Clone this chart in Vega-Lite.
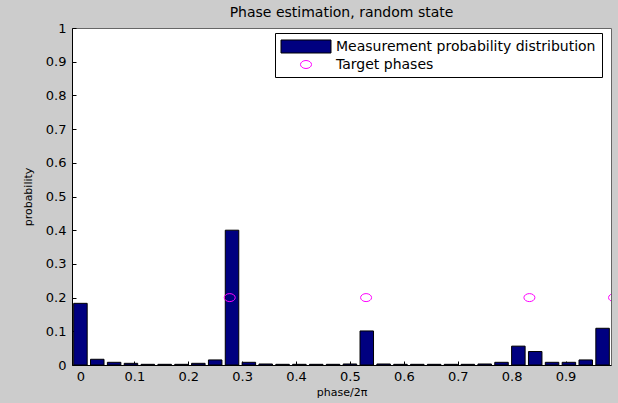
{
  "$schema": "https://vega.github.io/schema/vega-lite/v6.json",
  "width": 539,
  "height": 337,
  "autosize": "none",
  "padding": {"left": 72, "top": 28, "right": 7, "bottom": 38},
  "background": "#cccccc",
  "title": {
    "text": "Phase estimation, random state",
    "font": "DejaVu Sans",
    "fontSize": 14,
    "fontWeight": "normal",
    "color": "#000000",
    "anchor": "middle",
    "offset": 2
  },
  "config": {
    "view": {"fill": "white", "stroke": "#666666", "strokeWidth": 1},
    "axis": {
      "labelFont": "DejaVu Sans",
      "labelFontSize": 13,
      "labelColor": "#000000",
      "labelOverlap": false,
      "titleFont": "DejaVu Sans",
      "titleFontSize": 11,
      "titleFontWeight": "normal",
      "titleColor": "#000000",
      "domainColor": "#000000",
      "tickColor": "#000000",
      "tickSize": -4,
      "grid": false,
      "format": "~g"
    },
    "legend": {
      "labelFont": "DejaVu Sans",
      "labelFontSize": 14,
      "labelColor": "#000000",
      "labelLimit": 0,
      "symbolSize": 196,
      "symbolStrokeWidth": 1,
      "symbolOpacity": 1,
      "labelOffset": 40
    }
  },
  "datasets": {
    "bars": [
      {"phase": 0, "probability": 0.183},
      {"phase": 0.03125, "probability": 0.017},
      {"phase": 0.0625, "probability": 0.008},
      {"phase": 0.09375, "probability": 0.005},
      {"phase": 0.125, "probability": 0.002},
      {"phase": 0.15625, "probability": 0.002},
      {"phase": 0.1875, "probability": 0.002},
      {"phase": 0.21875, "probability": 0.005},
      {"phase": 0.25, "probability": 0.015},
      {"phase": 0.28125, "probability": 0.4},
      {"phase": 0.3125, "probability": 0.008},
      {"phase": 0.34375, "probability": 0.003},
      {"phase": 0.375, "probability": 0.002},
      {"phase": 0.40625, "probability": 0.002},
      {"phase": 0.4375, "probability": 0.002},
      {"phase": 0.46875, "probability": 0.002},
      {"phase": 0.5, "probability": 0.003},
      {"phase": 0.53125, "probability": 0.101},
      {"phase": 0.5625, "probability": 0.003},
      {"phase": 0.59375, "probability": 0.002},
      {"phase": 0.625, "probability": 0.002},
      {"phase": 0.65625, "probability": 0.002},
      {"phase": 0.6875, "probability": 0.002},
      {"phase": 0.71875, "probability": 0.002},
      {"phase": 0.75, "probability": 0.003},
      {"phase": 0.78125, "probability": 0.008},
      {"phase": 0.8125, "probability": 0.056},
      {"phase": 0.84375, "probability": 0.04},
      {"phase": 0.875, "probability": 0.008},
      {"phase": 0.90625, "probability": 0.008},
      {"phase": 0.9375, "probability": 0.015},
      {"phase": 0.96875, "probability": 0.109}
    ],
    "targets": [
      {"phase": 0.277, "probability": 0.2},
      {"phase": 0.53, "probability": 0.2},
      {"phase": 0.833, "probability": 0.2},
      {"phase": 0.99, "probability": 0.2}
    ]
  },
  "layer": [
    {
      "data": {"name": "bars"},
      "mark": {"type": "bar", "width": 13.5, "stroke": "#000000", "strokeWidth": 1, "opacity": 1},
      "encoding": {
        "x": {
          "field": "phase",
          "type": "quantitative",
          "scale": {"domain": [-0.015625, 0.984375], "nice": false, "zero": false, "padding": 0},
          "axis": {
            "tickCount": 10,
            "title": "phase/2π",
            "labelPadding": 9,
            "titlePadding": 3
          }
        },
        "y": {
          "field": "probability",
          "type": "quantitative",
          "scale": {"domain": [0, 1], "nice": false},
          "axis": {
            "tickCount": 10,
            "title": "probability",
            "labelPadding": 10,
            "titlePadding": 12
          }
        },
        "fill": {
          "datum": "Measurement probability distribution",
          "type": "nominal",
          "scale": {"range": ["#000080"]},
          "legend": {
            "title": " ",
            "titleOrient": "bottom",
            "titleFontSize": 14,
            "titlePadding": 2,
            "orient": "none",
            "legendX": 203,
            "legendY": 5,
            "fillColor": "white",
            "strokeColor": "#000000",
            "padding": 6,
            "symbolType": "M-1.07,-0.93H6.07V0.93H-1.07Z",
            "symbolStrokeColor": "#000000",
            "zindex": 0
          }
        }
      }
    },
    {
      "data": {"name": "targets"},
      "mark": {
        "type": "point",
        "shape": "M1,0A1,0.727 0 1,1 -1,0A1,0.727 0 1,1 1,0Z",
        "size": 121,
        "filled": false,
        "strokeWidth": 1,
        "opacity": 1,
        "clip": true
      },
      "encoding": {
        "x": {"field": "phase", "type": "quantitative"},
        "y": {"field": "probability", "type": "quantitative"},
        "stroke": {
          "datum": "Target phases",
          "type": "nominal",
          "scale": {"range": ["#ff00ff"]},
          "legend": {
            "title": null,
            "orient": "none",
            "legendX": 209,
            "legendY": 29,
            "padding": 0,
            "symbolType": "M3.29,0A0.79,0.57 0 1,1 1.71,0A0.79,0.57 0 1,1 3.29,0Z",
            "symbolFillColor": "transparent",
            "zindex": 1
          }
        }
      }
    }
  ]
}
